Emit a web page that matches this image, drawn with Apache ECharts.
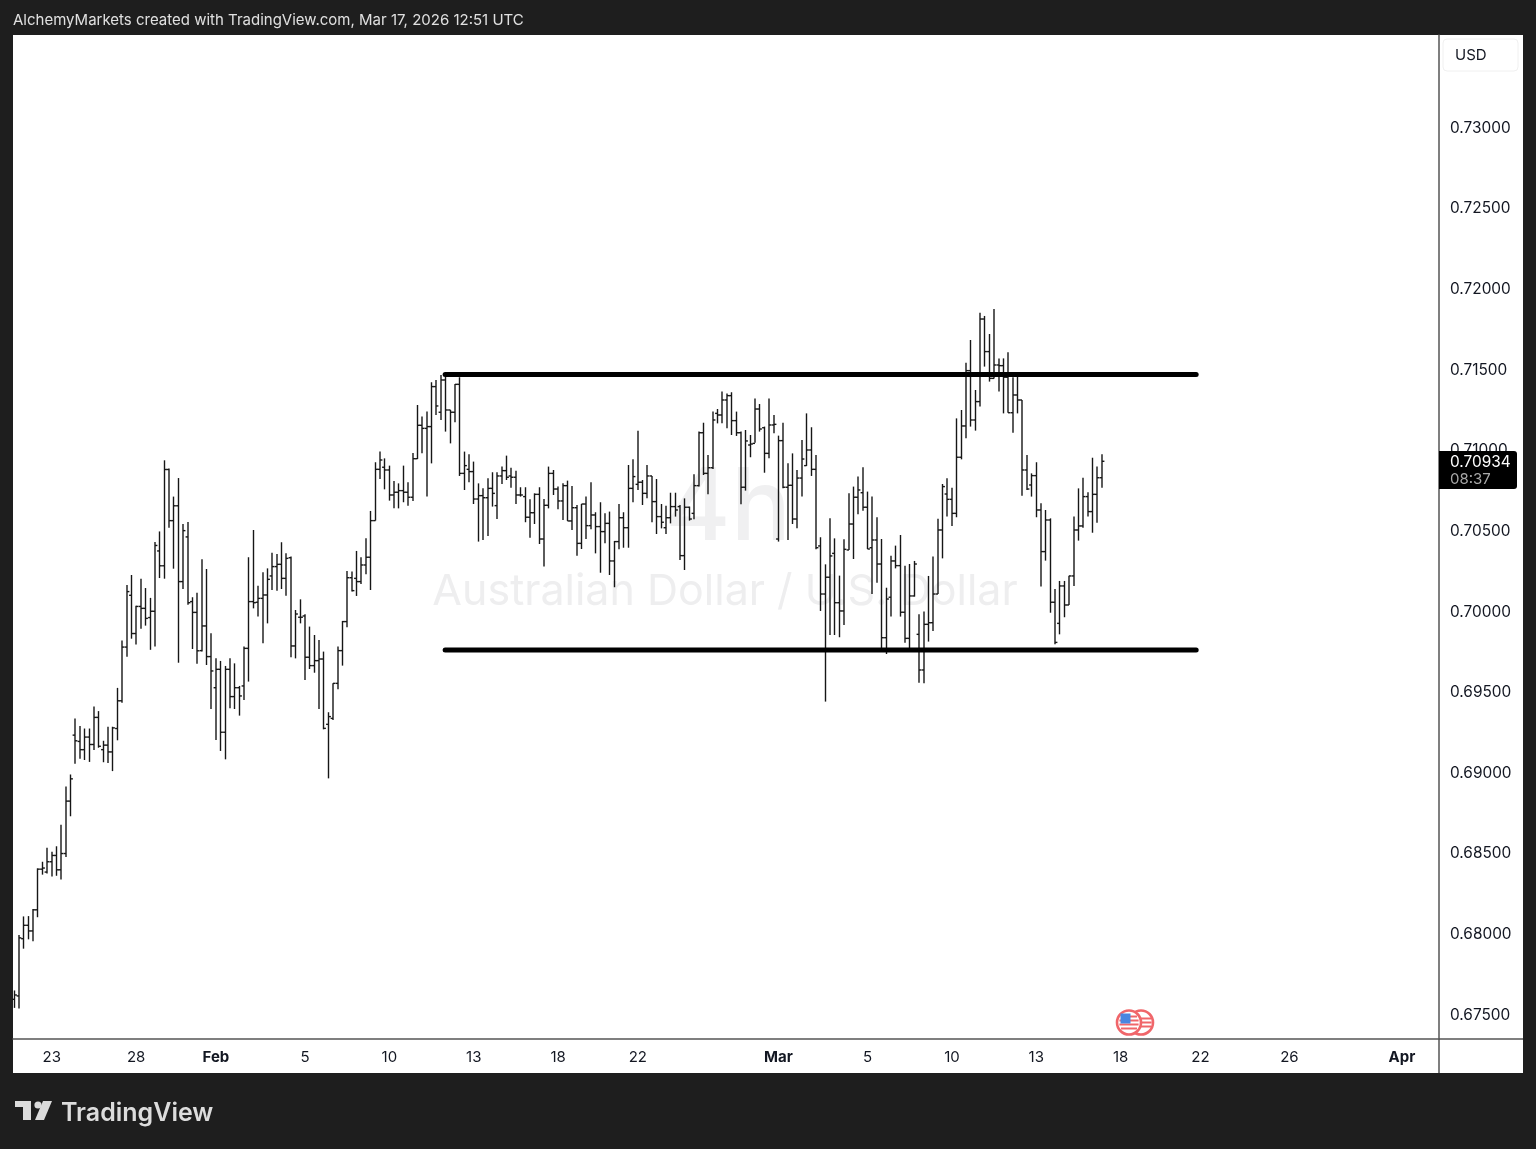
<!DOCTYPE html>
<html><head><meta charset="utf-8"><title>AUD/USD 4h</title>
<style>html,body{margin:0;padding:0;background:#1e1e1e}#c{width:1536px;height:1149px}</style>
<script src="https://cdn.jsdelivr.net/npm/echarts@6/dist/echarts.min.js"></script></head>
<body><div id="c"></div><script>
const opens=[0.67598,0.67619,0.67974,0.68057,0.68022,0.68153,0.68405,0.68387,0.68451,0.68490,0.68401,0.68502,0.68827,0.69236,0.69197,0.69146,0.69224,0.69178,0.69346,0.69146,0.69174,0.69132,0.69277,0.69449,0.69782,0.70103,0.69866,0.70034,0.70022,0.69965,0.70004,0.70378,0.70286,0.70883,0.70566,0.70658,0.70188,0.70465,0.70064,0.69997,
0.69760,0.69913,0.69723,0.69530,0.69644,0.69254,0.69644,0.69475,0.69530,0.69541,
0.69774,0.70064,0.70060,0.70084,0.70105,0.70223,0.70281,0.70295,0.70208,0.70336,
0.69789,0.69967,0.69975,0.69719,0.69667,0.69698,0.69708,0.69303,0.69340,0.69557,
0.69760,0.69940,0.70212,0.70208,0.70188,0.70291,0.70339,0.70566,0.70884,0.70897,
0.70880,0.70725,0.70742,0.70752,0.70742,0.70711,0.70950,0.71157,0.71138,0.71149,
0.71397,0.71238,0.71438,0.71252,0.71238,0.71411,0.70859,0.70884,0.70870,0.70700,
0.70721,0.70708,0.70766,0.70659,0.70843,0.70876,0.70843,0.70835,0.70725,0.70715,
0.70587,0.70615,0.70729,0.70452,0.70661,0.70859,0.70762,0.70688,0.70783,0.70564,
0.70646,0.70425,0.70669,0.70535,0.70601,0.70529,0.70498,0.70549,0.70316,0.70436,
0.70584,0.70522,0.70766,0.70791,0.70804,0.70735,0.70843,0.70684,0.70591,0.70522,
0.70584,0.70653,0.70653,0.70349,0.70649,0.70611,0.70783,0.71111,0.70859,0.70894,
0.71231,0.71221,0.71314,0.71341,0.71186,0.71111,0.70773,0.71035,0.71045,0.71258,
0.71142,0.70983,0.71159,0.70452,0.71062,0.70773,0.70785,0.70576,0.70830,0.70907,
0.71004,0.70884,0.70409,0.70111,0.70215,0.70363,0.70057,0.70006,0.70384,0.70545,
0.70711,0.70739,0.70649,0.70398,0.70446,0.70297,0.69840,0.70091,0.70316,0.70287,
0.69998,0.69836,0.70099,0.69861,0.69640,0.69923,0.69933,0.70111,0.70508,0.70731,
0.70698,0.70611,0.70959,0.71153,0.71496,0.71190,0.71304,0.71816,0.71614,0.71448,
0.71531,0.71527,0.71455,0.71235,0.71345,0.71314,0.70880,0.70787,0.70845,0.70632,
0.70374,0.70570,0.70060,0.69929,0.70161,0.70043,0.70223,0.70508,0.70533,0.70715,
0.70622,0.70729,0.70832];
const highs=[0.67653,0.67997,0.68112,0.68114,0.68158,0.68410,0.68451,0.68538,0.68513,0.68547,0.68681,0.68917,0.68992,0.69339,0.69293,0.69277,0.69277,0.69414,0.69385,0.69201,0.69288,0.69288,0.69529,0.69823,0.70167,0.70229,0.70038,0.70206,0.70148,0.70087,0.70433,0.70499,0.70940,0.70889,0.70715,0.70830,0.70545,0.70557,0.70091,0.70119,
0.70326,0.70266,0.69867,0.69712,0.69696,0.69665,0.69712,0.69681,0.69541,0.69785,
0.70339,0.70508,0.70163,0.70246,0.70270,0.70367,0.70359,0.70432,0.70363,0.70343,
0.70012,0.70078,0.69985,0.69909,0.69857,0.69826,0.69754,0.69378,0.69557,0.69785,
0.69944,0.70254,0.70250,0.70378,0.70339,0.70456,0.70626,0.70928,0.70994,0.70952,
0.70907,0.70812,0.70797,0.70907,0.70804,0.70985,0.71283,0.71211,0.71242,0.71424,
0.71438,0.71469,0.71469,0.71252,0.71413,0.71455,0.70994,0.70977,0.70932,0.70797,
0.70766,0.70828,0.70866,0.70866,0.70901,0.70969,0.70894,0.70876,0.70773,0.70773,
0.70698,0.70735,0.70773,0.70700,0.70901,0.70880,0.70777,0.70797,0.70814,0.70781,
0.70663,0.70669,0.70715,0.70804,0.70618,0.70680,0.70611,0.70622,0.70440,0.70669,
0.70618,0.70911,0.70946,0.71124,0.70818,0.70911,0.70843,0.70824,0.70669,0.70659,
0.70739,0.70739,0.70663,0.70704,0.70653,0.70853,0.71118,0.71173,0.70973,0.71242,
0.71258,0.71366,0.71355,0.71362,0.71242,0.71118,0.71128,0.71097,0.71324,0.71289,
0.71149,0.71324,0.71221,0.71093,0.71173,0.70921,0.70983,0.70880,0.71066,0.71231,
0.71145,0.70973,0.70463,0.70295,0.70580,0.70456,0.70225,0.70450,0.70735,0.70777,
0.70839,0.70897,0.70746,0.70715,0.70587,0.70452,0.70150,0.70349,0.70411,0.70477,
0.70287,0.70297,0.70316,0.69985,0.70002,0.70223,0.70343,0.70578,0.70793,0.70828,
0.70770,0.71200,0.71252,0.71545,0.71686,0.71376,0.71855,0.71835,0.71723,0.71878,
0.71572,0.71572,0.71610,0.71455,0.71459,0.71314,0.70973,0.70859,0.70928,0.70673,
0.70632,0.70580,0.70142,0.70192,0.70192,0.70225,0.70591,0.70766,0.70832,0.70742,
0.70956,0.70901,0.70977];
const lows=[0.67545,0.67541,0.67912,0.67970,0.67958,0.68107,0.68371,0.68378,0.68359,0.68364,0.68341,0.68481,0.68733,0.69059,0.69089,0.69082,0.69070,0.69144,0.69158,0.69068,0.69064,0.69013,0.69204,0.69437,0.69722,0.69834,0.69798,0.69896,0.69915,0.69765,0.69786,0.70210,0.70206,0.70522,0.70268,0.69685,0.70142,0.70045,0.69770,0.69678,
0.69754,0.69671,0.69398,0.69206,0.69138,0.69086,0.69402,0.69398,0.69357,0.69454,
0.69568,0.70022,0.69971,0.69805,0.69929,0.70136,0.70132,0.70142,0.70101,0.69719,
0.69712,0.69929,0.69578,0.69646,0.69623,0.69398,0.69272,0.68968,0.69330,0.69520,
0.69667,0.69905,0.70126,0.70099,0.70173,0.70233,0.70136,0.70566,0.70824,0.70760,
0.70690,0.70642,0.70642,0.70680,0.70659,0.70688,0.70948,0.70983,0.70715,0.70921,
0.71221,0.71190,0.71118,0.71045,0.71176,0.70843,0.70756,0.70804,0.70669,0.70436,
0.70446,0.70471,0.70653,0.70576,0.70793,0.70818,0.70770,0.70669,0.70715,0.70556,
0.70460,0.70545,0.70421,0.70281,0.70642,0.70725,0.70636,0.70570,0.70564,0.70508,
0.70349,0.70390,0.70452,0.70512,0.70363,0.70243,0.70425,0.70229,0.70153,0.70388,
0.70398,0.70398,0.70680,0.70756,0.70663,0.70704,0.70556,0.70483,0.70518,0.70483,
0.70549,0.70591,0.70322,0.70260,0.70566,0.70574,0.70777,0.70849,0.70729,0.70886,
0.71169,0.71169,0.71138,0.71097,0.71091,0.70667,0.70752,0.70959,0.71049,0.71118,
0.70863,0.70952,0.71107,0.70436,0.70766,0.70446,0.70545,0.70518,0.70715,0.70905,
0.70843,0.70388,0.70006,0.69444,0.69857,0.69857,0.69843,0.69919,0.70384,0.70328,
0.70605,0.70628,0.70390,0.70111,0.70181,0.69774,0.69739,0.69971,0.70270,0.69971,
0.69809,0.69774,0.70095,0.69561,0.69557,0.69816,0.69882,0.70111,0.70332,0.70591,
0.70533,0.70587,0.70946,0.71076,0.71149,0.71124,0.71273,0.71521,0.71428,0.71448,
0.71366,0.71231,0.71235,0.71111,0.71231,0.70721,0.70756,0.70715,0.70587,0.70157,
0.70318,0.69995,0.69799,0.69861,0.69967,0.70043,0.70161,0.70442,0.70522,0.70591,
0.70491,0.70553,0.70770];
const closes=[0.67625,0.67979,0.68057,0.68022,0.68153,0.68405,0.68412,0.68451,0.68490,0.68401,0.68502,0.68827,0.68965,0.69201,0.69146,0.69224,0.69178,0.69346,0.69167,0.69174,0.69132,0.69281,0.69449,0.69782,0.70126,0.69866,0.70034,0.70022,0.69960,0.70004,0.70412,0.70286,0.70883,0.70566,0.70658,0.70188,0.70504,0.70057,0.69997,0.69759,
0.69913,0.69723,0.69634,0.69644,0.69254,0.69644,0.69475,0.69530,0.69479,0.69774,
0.70064,0.70057,0.70084,0.70105,0.70202,0.70281,0.70295,0.70208,0.70332,0.69789,
0.69987,0.69967,0.69719,0.69667,0.69698,0.69708,0.69278,0.69351,0.69557,0.69760,
0.69940,0.70212,0.70132,0.70188,0.70291,0.70339,0.70566,0.70884,0.70942,0.70880,
0.70725,0.70742,0.70752,0.70742,0.70711,0.70950,0.71157,0.71138,0.71149,0.71397,
0.71277,0.71438,0.71252,0.71238,0.71411,0.70859,0.70907,0.70870,0.70700,0.70721,
0.70708,0.70766,0.70735,0.70843,0.70876,0.70835,0.70835,0.70725,0.70725,0.70587,
0.70615,0.70729,0.70452,0.70661,0.70859,0.70762,0.70688,0.70783,0.70564,0.70646,
0.70425,0.70669,0.70535,0.70601,0.70529,0.70498,0.70549,0.70316,0.70436,0.70584,
0.70522,0.70766,0.70839,0.70804,0.70735,0.70843,0.70684,0.70591,0.70556,0.70584,
0.70653,0.70632,0.70349,0.70649,0.70576,0.70783,0.71111,0.70859,0.70894,0.71190,
0.71221,0.71314,0.71341,0.71186,0.71111,0.70773,0.71060,0.71041,0.71258,0.71134,
0.70983,0.71159,0.71163,0.71062,0.70773,0.70785,0.70576,0.70830,0.70948,0.71004,
0.70884,0.70398,0.70111,0.70215,0.70347,0.70057,0.70006,0.70388,0.70545,0.70711,
0.70756,0.70649,0.70390,0.70446,0.70297,0.69840,0.70080,0.70316,0.70287,0.69998,
0.69836,0.70099,0.70297,0.69640,0.69923,0.69933,0.70111,0.70508,0.70777,0.70698,
0.70611,0.70959,0.71153,0.71496,0.71190,0.71304,0.71816,0.71614,0.71448,0.71531,
0.71527,0.71455,0.71235,0.71345,0.71314,0.70880,0.70762,0.70845,0.70632,0.70374,
0.70570,0.70060,0.69811,0.70161,0.70043,0.70223,0.70508,0.70533,0.70715,0.70622,
0.70729,0.70832,0.70934];
const timeTickBars=[8,26,43,62,80,98,116,133,163,182,200,218,236,253,272,296];
const timeTickLabels=['23','28','Feb','5','10','13','18','22','Mar','5','10','13','18','22','26','Apr'];
const priceTicks=[0.675,0.68,0.685,0.69,0.695,0.70,0.705,0.71,0.715,0.72,0.725,0.73];
const resistanceLine=[[91.9,0.71472],[252.1,0.71472]];
const supportLine=[[91.9,0.69764],[252.1,0.69764]];
const lastPrice='0.70934', countdown='08:37';
const headerText='AlchemyMarkets created with TradingView.com, Mar 17, 2026 12:51 UTC';

const FONT='Inter, "Liberation Sans", sans-serif';
const INK='#131722';
const rows=opens.map((o,i)=>[i,o,highs[i],lows[i],closes[i]]);
const monthLabels=new Set(['Feb','Mar','Apr']);
const labelOf=new Map(timeTickBars.map((b,i)=>[b,timeTickLabels[i]]));

function renderBar(params,api){
  const i=api.value(0);
  const top=api.coord([i,api.value(2)]), bot=api.coord([i,api.value(3)]);
  const op=api.coord([i,api.value(1)]), cl=api.coord([i,api.value(4)]);
  const style={stroke:'#161616',lineWidth:1.4};
  const x=Math.round(top[0]*2)/2;
  const mk=(a,b,c,d)=>({type:'line',shape:{x1:a,y1:b,x2:c,y2:d},style,silent:true});
  return {type:'group',children:[
    mk(x,top[1],x,bot[1]),
    mk(x-2.4,op[1],x,op[1]),
    mk(x,cl[1],x+2.4,cl[1])
  ]};
}

// US flag event badge
function flagBadge(cx,cy,full){
  const red='#f0666a', kids=[];
  kids.push({type:'circle',shape:{cx,cy,r:12},style:{fill:'#fff',stroke:red,lineWidth:2.6},z:6});
  if(full){
    [[-6,8],[-2,9.6],[2,9.6],[6,8]].forEach(([d,h])=>kids.push({type:'line',shape:{x1:cx-h,y1:cy+d,x2:cx+h,y2:cy+d},style:{stroke:red,lineWidth:2},z:6}));
    kids.push({type:'rect',shape:{x:cx-8.5,y:cy-9,width:10,height:10},style:{fill:'#4a86e0'},z:6});
  }else{
    [[-4,10],[0,10.6],[4,10]].forEach(([d,h])=>kids.push({type:'line',shape:{x1:cx-h,y1:cy+d,x2:cx+h,y2:cy+d},style:{stroke:red,lineWidth:2},z:6}));
  }
  return kids;
}

const chart=echarts.init(document.getElementById('c'),null,{renderer:'canvas'});
chart.setOption({
  animation:false,
  backgroundColor:'#1e1e1e',
  grid:{left:13,top:35,width:1426,height:1004,show:false,containLabel:false},
  xAxis:{type:'value',min:-0.277,max:303.9,z:3,splitLine:{show:false},
    axisLine:{show:true,onZero:false,lineStyle:{color:'#555',width:1.5}},
    axisTick:{show:false,customValues:timeTickBars},
    axisLabel:{customValues:timeTickBars,margin:11,showMinLabel:true,showMaxLabel:true,
      fontFamily:FONT,fontSize:15,color:INK,
      formatter:v=>{const t=labelOf.get(v);return monthLabels.has(t)?'{m|'+t+'}':t;},
      rich:{m:{fontFamily:FONT,fontSize:15,fontWeight:'bold',color:INK}}}},
  yAxis:{type:'value',position:'right',min:0.67352,max:0.73577,z:3,splitLine:{show:false},scale:true,
    axisLine:{show:true,onZero:false,lineStyle:{color:'#555',width:1.5}},
    axisTick:{show:false,customValues:priceTicks},
    axisLabel:{customValues:priceTicks,margin:11,align:'left',fontFamily:FONT,fontSize:15.4,color:INK,
      padding:[2,0,0,0],formatter:v=>v.toFixed(5)}},
  series:[
    {type:'custom',name:'AUDUSD',data:rows,renderItem:renderBar,z:4,silent:true,clip:false,
      encode:{x:0,y:[1,2,3,4]}},
    {type:'line',name:'Resistance',data:resistanceLine,symbol:'none',z:5,silent:true,
      lineStyle:{color:'#000',width:5,cap:'round'}},
    {type:'line',name:'Support',data:supportLine,symbol:'none',z:5,silent:true,
      lineStyle:{color:'#000',width:5,cap:'round'}}
  ],
  graphic:[
    {type:'rect',z:0,shape:{x:13,y:35,width:1510,height:1038},style:{fill:'#fff'}},
    {type:'text',z:1,style:{x:728,y:510,text:'4h',fill:'#f0f0f1',font:'500 100px '+FONT,textAlign:'center',textVerticalAlign:'middle'}},
    {type:'text',z:1,style:{x:725,y:592,text:'Australian Dollar / U.S. Dollar',fill:'#eeeeef',font:'400 43px '+FONT,textAlign:'center',textVerticalAlign:'middle'}},
    {type:'line',z:3,shape:{x1:1439,y1:1039,x2:1439,y2:1073},style:{stroke:'#555',lineWidth:1.5}},
    {type:'line',z:3,shape:{x1:1439,y1:1039,x2:1523,y2:1039},style:{stroke:'#555',lineWidth:1.5}},
    {type:'rect',z:6,shape:{x:1443,y:39,width:75,height:32,r:4},style:{fill:'#fff',stroke:'#f0f0f0',lineWidth:1}},
    {type:'text',z:7,style:{x:1455,y:55,text:'USD',fill:INK,font:'15px '+FONT,textVerticalAlign:'middle'}},
    {type:'rect',z:8,shape:{x:1439,y:451,width:78,height:38,r:[0,3,3,0]},style:{fill:'#000'}},
    {type:'text',z:9,style:{x:1450,y:462,text:lastPrice,fill:'#fff',font:'15.4px '+FONT,textVerticalAlign:'middle'}},
    {type:'text',z:9,style:{x:1450,y:479.5,text:countdown,fill:'#a8a8a8',font:'15px '+FONT,textVerticalAlign:'middle'}},
    ...flagBadge(1141,1022.5,false),
    ...flagBadge(1129,1022.5,true).map(k=>({...k,z:7})),
    {type:'text',z:9,style:{x:13,y:20,text:headerText,fill:'#e0e0e0',font:'15px '+FONT,textVerticalAlign:'middle'}},
    {type:'polygon',z:9,shape:{points:[[15,1101],[31,1101],[31,1120],[23,1120],[23,1107],[15,1107]]},style:{fill:'#dcdcdc'}},
    {type:'circle',z:9,shape:{cx:38,cy:1105,r:3.6},style:{fill:'#dcdcdc'}},
    {type:'polygon',z:9,shape:{points:[[43,1101],[52,1101],[44,1120],[35,1120]]},style:{fill:'#dcdcdc'}},
    {type:'text',z:9,style:{x:61,y:1113,text:'TradingView',fill:'#dcdcdc',font:'600 25px '+FONT,textVerticalAlign:'middle'}}
  ]
});
</script></body></html>
